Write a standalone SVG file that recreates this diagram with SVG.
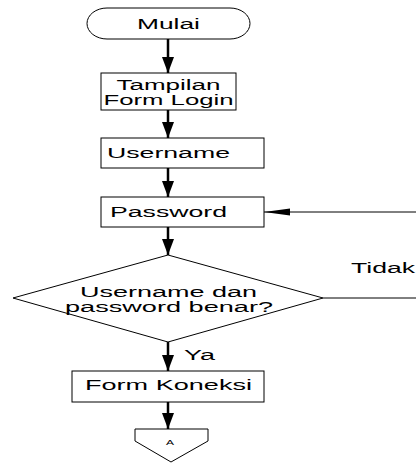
<svg xmlns="http://www.w3.org/2000/svg" width="416" height="463" viewBox="0 0 416 463">
<style>
.shape{fill:#fff;stroke:#000;stroke-width:1}
.t{font-family:"Liberation Sans",Arial,sans-serif;font-size:14px;fill:#000;text-anchor:middle}
.flow{stroke:#000;stroke-width:2.5;fill:none}
.thin{stroke:#000;stroke-width:1;fill:none}
</style>
<defs>
<marker id="ah" markerUnits="userSpaceOnUse" markerWidth="16" markerHeight="12" refX="16" refY="6" orient="auto">
<path d="M0,0 L16,6 L0,12 Z" fill="#000"/>
</marker>
<marker id="ah2" markerUnits="userSpaceOnUse" markerWidth="26" markerHeight="8" refX="26" refY="4" orient="auto">
<path d="M0,0.5 L26,4 L0,7.5 Z" fill="#000"/>
</marker>
</defs>
<rect width="416" height="463" fill="#fff"/>
<g id="connectors">
<line class="flow" x1="168" y1="39" x2="168" y2="73" marker-end="url(#ah)"/>
<line class="flow" x1="168" y1="110" x2="168" y2="138" marker-end="url(#ah)"/>
<line class="flow" x1="168" y1="168" x2="168" y2="197" marker-end="url(#ah)"/>
<line class="flow" x1="168" y1="227" x2="168" y2="255" marker-end="url(#ah)"/>
<line class="flow" x1="168" y1="342" x2="168" y2="371" marker-end="url(#ah)"/>
<line class="flow" x1="168" y1="402" x2="168" y2="429" marker-end="url(#ah)"/>
<line class="thin" x1="416" y1="212" x2="264" y2="212" marker-end="url(#ah2)"/>
<line class="thin" x1="323" y1="298" x2="416" y2="298"/>
<text class="t" x="383" y="273" textLength="64" lengthAdjust="spacingAndGlyphs">Tidak</text>
<text class="t" x="199.5" y="360" textLength="31" lengthAdjust="spacingAndGlyphs">Ya</text>
</g>
<g id="mulai">
<path class="shape" d="M107,8 H230 A20,15.5 0 0 1 230,39 H107 A20,15.5 0 0 1 107,8 Z"/>
<text class="t" x="168.5" y="28.5" textLength="63" lengthAdjust="spacingAndGlyphs">Mulai</text>
</g>
<g id="tampilan">
<rect class="shape" x="101" y="73" width="135" height="37"/>
<text class="t" x="168.5" y="89.5" textLength="104" lengthAdjust="spacingAndGlyphs">Tampilan</text>
<text class="t" x="168.5" y="105" textLength="130" lengthAdjust="spacingAndGlyphs">Form Login</text>
</g>
<g id="username">
<rect class="shape" x="101" y="138" width="163" height="30"/>
<text class="t" x="168.5" y="158" textLength="123" lengthAdjust="spacingAndGlyphs">Username</text>
</g>
<g id="password">
<rect class="shape" x="101" y="197" width="163" height="30"/>
<text class="t" x="168.5" y="217" textLength="117" lengthAdjust="spacingAndGlyphs">Password</text>
</g>
<g id="decision">
<polygon class="shape" points="168,255 323,298 168,342 13,298"/>
<text class="t" x="168.5" y="297" textLength="177" lengthAdjust="spacingAndGlyphs">Username dan</text>
<text class="t" x="169" y="312" textLength="208" lengthAdjust="spacingAndGlyphs">password benar?</text>
</g>
<g id="koneksi">
<rect class="shape" x="72" y="371" width="192" height="31"/>
<text class="t" x="168.5" y="390" textLength="167" lengthAdjust="spacingAndGlyphs">Form Koneksi</text>
</g>
<g id="offpage">
<polygon class="shape" points="135,429 208,429 208,441 171,462 135,441"/>
<text class="t" x="170" y="445" style="font-size:8px" textLength="8" lengthAdjust="spacingAndGlyphs">A</text>
</g>
</svg>
